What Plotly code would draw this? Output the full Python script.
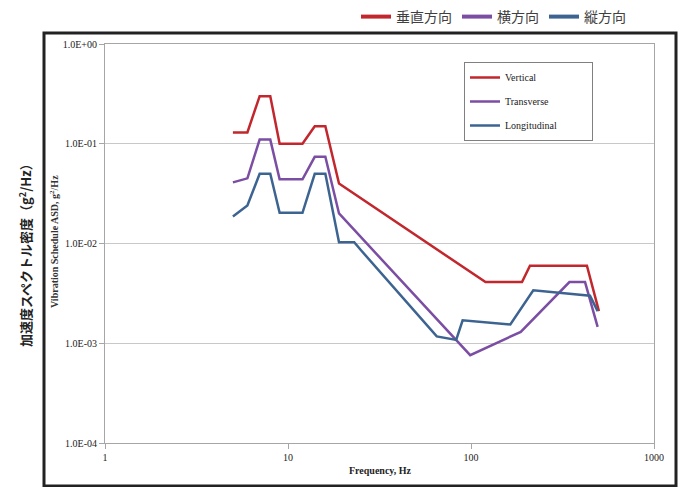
import plotly.graph_objects as go

# ---- data ----
freq_vertical = [5, 6, 7, 8, 9, 12, 14, 16, 19, 120, 190, 210, 430, 500]
asd_vertical = [0.13, 0.13, 0.30, 0.30, 0.10, 0.10, 0.15, 0.15, 0.04, 0.0041, 0.0041, 0.006, 0.006, 0.0021]

freq_transverse = [5, 6, 7, 8, 9, 12, 14, 16, 19, 99, 187, 345, 420, 492]
asd_transverse = [0.041, 0.045, 0.11, 0.11, 0.044, 0.044, 0.074, 0.074, 0.020, 0.00076, 0.0013, 0.0041, 0.0041, 0.00146]

freq_longitudinal = [5, 6, 7, 8, 9, 12, 14, 16, 19, 23, 25, 65, 83, 90, 164, 219, 447, 492]
asd_longitudinal = [0.0187, 0.024, 0.05, 0.05, 0.0203, 0.0203, 0.05, 0.05, 0.0103, 0.0103, 0.0086,
                    0.00117, 0.00108, 0.0017, 0.00154, 0.0034, 0.0030, 0.0021]

series_names_en = ["Vertical", "Transverse", "Longitudinal"]
series_names_ja = ["垂直方向", "横方向", "縦方向"]
colors = ["#c1272d", "#7b4ea3", "#3d6491"]

x_tickvals = [1, 10, 100, 1000]
x_ticktext = ["1", "10", "100", "1000"]
y_tickvals = [1e-4, 1e-3, 1e-2, 1e-1, 1]
y_ticktext = ["1.0E-04", "1.0E-03", "1.0E-02", "1.0E-01", "1.0E+00"]

W, H = 678, 487
L, R, T, B = 105, 24, 44, 44
pw, ph = W - L - R, H - T - B

def px_x(p):
    return (p - L) / pw

def px_y(p):
    return (H - B - p) / ph

fig = go.Figure()
data = [(freq_vertical, asd_vertical), (freq_transverse, asd_transverse), (freq_longitudinal, asd_longitudinal)]
for i, (fx, fy) in enumerate(data):
    label = series_names_en[i]
    if i == 2:
        label = label + "\u00a0" * 12
    fig.add_trace(go.Scatter(
        x=fx, y=fy, mode="lines", name=label,
        line=dict(color=colors[i], width=2.5),
        legend="legend", legendgroup=f"g{i}",
    ))
for i in range(3):
    fig.add_trace(go.Scatter(
        x=[None], y=[None], mode="lines", name=series_names_ja[i],
        line=dict(color=colors[i], width=4),
        legend="legend2", showlegend=True,
    ))

serif = "Liberation Serif, Times New Roman, serif"
cjk = "Noto Sans CJK JP, sans-serif"

fig.update_layout(
    width=W, height=H,
    margin=dict(l=L, r=R, t=T, b=B, autoexpand=False),
    paper_bgcolor="white", plot_bgcolor="white",
    showlegend=True,
    hovermode=False,
    xaxis=dict(
        type="log", range=[0, 3],
        tickvals=x_tickvals, ticktext=x_ticktext,
        showgrid=False, zeroline=False,
        showline=True, linecolor="#a6a6a6", linewidth=1, mirror=True,
        ticks="outside", ticklen=5, tickcolor="#a6a6a6",
        tickfont=dict(family=serif, size=10, color="#222"),
    ),
    yaxis=dict(
        type="log", range=[-4, 0],
        tickvals=y_tickvals, ticktext=y_ticktext,
        showgrid=True, gridcolor="#c8c8c8", gridwidth=1,
        zeroline=False,
        showline=True, linecolor="#a6a6a6", linewidth=1, mirror=True,
        ticks="outside", ticklen=5, tickcolor="#a6a6a6",
        tickfont=dict(family=serif, size=10, color="#222"),
    ),
    legend=dict(
        x=px_x(464), y=px_y(62), xanchor="left", yanchor="top",
        bgcolor="white", bordercolor="#808080", borderwidth=1,
        font=dict(family=serif, size=10, color="#222"),
        traceorder="grouped", tracegroupgap=5,
    ),
    legend2=dict(
        orientation="h",
        xref="container", yref="container",
        x=356 / W, y=1 - 17 / H, xanchor="left", yanchor="middle",
        bgcolor="rgba(0,0,0,0)",
        font=dict(family=cjk, size=14, color="#404040"),
    ),
    shapes=[dict(
        type="rect", xref="paper", yref="paper",
        x0=px_x(44), x1=px_x(676), y0=px_y(486), y1=px_y(33),
        line=dict(color="#222", width=3), fillcolor="rgba(0,0,0,0)",
    )],
    annotations=[
        dict(text="<b>Frequency, Hz</b>", xref="paper", yref="paper",
             x=px_x(380), y=px_y(470), showarrow=False,
             font=dict(family=serif, size=10, color="#222"), xanchor="center", yanchor="middle"),
        dict(text="<b>Vibration Schedule ASD, g<sup>2</sup>/Hz</b>", xref="paper", yref="paper",
             x=px_x(54), y=px_y(242), showarrow=False, textangle=-90,
             font=dict(family=serif, size=10, color="#333"), xanchor="center", yanchor="middle"),
        dict(text="<b>加速度スペクトル密度（g<sup>2</sup>/Hz）</b>", xref="paper", yref="paper",
             x=px_x(25), y=px_y(252), showarrow=False, textangle=-90,
             font=dict(family=cjk, size=13, color="#222"), xanchor="center", yanchor="middle"),
    ],
)

fig.write_html(
    "out.html",
    config={"displayModeBar": False, "staticPlot": True},
    post_script="document.body.style.margin='0';document.body.style.overflow='hidden';",
)
